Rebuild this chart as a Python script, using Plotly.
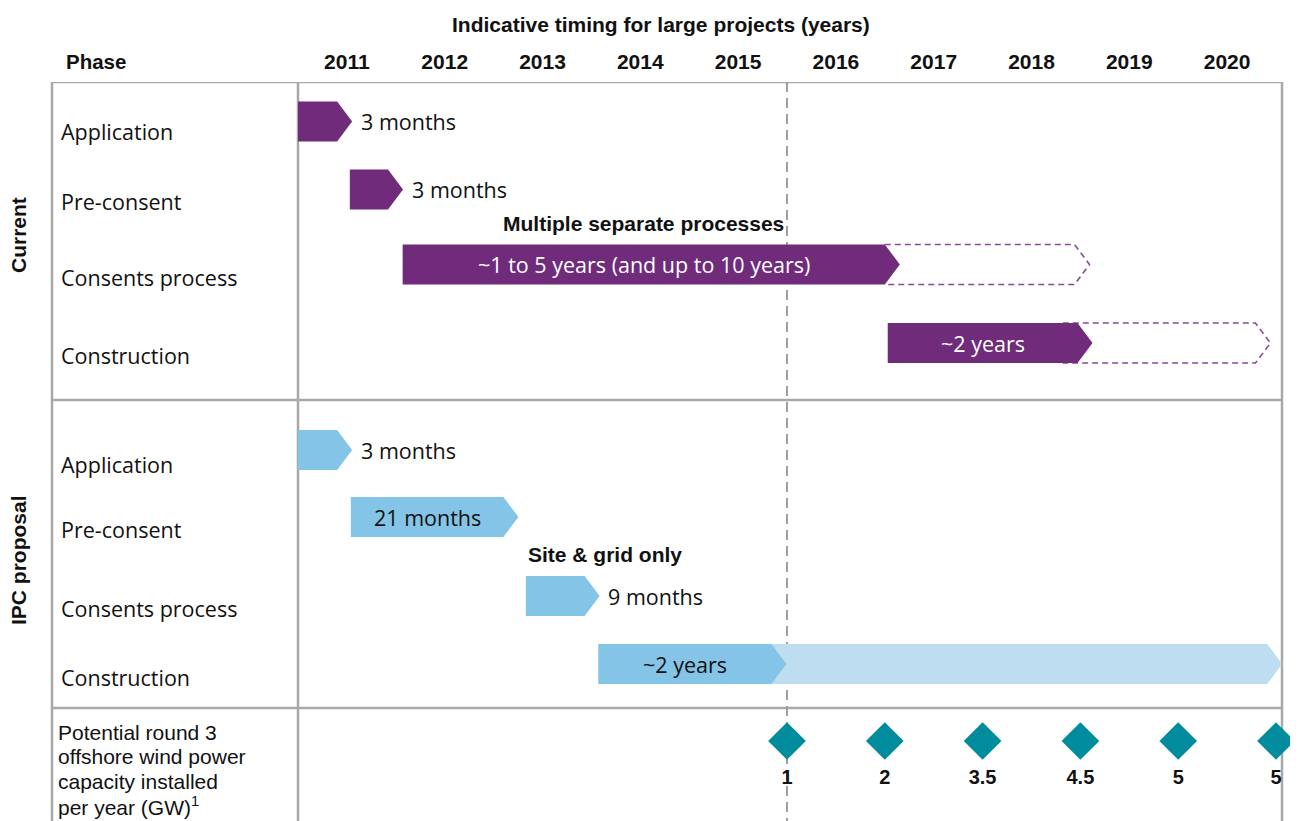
import plotly.graph_objects as go

# ---------------- data ----------------
phases = ["Application", "Pre-consent", "Consents process", "Construction"]
years = [2011, 2012, 2013, 2014, 2015, 2016, 2017, 2018, 2019, 2020]

# Current system (years)
cur_start = [2011.0, 2011.53, 2012.07, 2017.03]
cur_end = [2011.40, 2011.92, 2017.00, 2018.97]
cur_ext_start = [None, None, 2017.00, 2018.82]
cur_ext_end = [None, None, 2018.94, 2020.79]
cur_labels = ["3 months", "3 months", "~1 to 5 years (and up to 10 years)", "~2 years"]
cur_label_inside = [False, False, True, True]

# IPC proposal (years)
ipc_start = [2011.0, 2011.54, 2013.33, 2014.07]
ipc_end = [2011.40, 2013.10, 2013.93, 2015.84]
ipc_ext_end = [None, None, None, 2020.91]
ipc_labels = ["3 months", "21 months", "9 months", "~2 years"]
ipc_label_inside = [False, True, False, True]

# Potential round 3 offshore wind capacity installed per year (GW)
gw_years = [2016, 2017, 2018, 2019, 2020, 2021]
gw_values = [1, 2, 3.5, 4.5, 5, 5]
gw_row_label = ["Potential round 3", "offshore wind power", "capacity installed",
                "per year (GW)<sup>1</sup>"]

# ---------------- layout constants ----------------
OFF = 8                       # page body margin
W, H = 1298 - OFF, 821 - OFF  # figure size
TOP = 82                      # top of grid (reference px)
PX_PER_YEAR = 97.8
X0_PX = 298                   # reference pixel position of 2011.0
XMIN = 2011 - (X0_PX - OFF) / PX_PER_YEAR
XMAX = XMIN + W / PX_PER_YEAR
TIP = 15 / PX_PER_YEAR        # arrow tip length in years
HALF = 20                     # half bar height (px)

cur_rows = [121.5, 189.5, 264.5, 343]
ipc_rows = [450, 517, 596, 664]
cur_label_rows = [131, 201, 277, 355]
ipc_label_rows = [464, 529, 608, 677]

PURPLE = "#702B7A"
BLUE = "#83C4E7"
LIGHTBLUE = "#BEDDF1"
TEAL = "#008C9C"
GRID = "#A8A8A8"
TXT = "#111111"

REG = "Open Sans, Liberation Sans, Arial, sans-serif"
BOLD = "Liberation Sans, Arial, sans-serif"
RS = 21.5  # regular text size


def px(p):
    return (p - OFF) / W


def py(p):
    return (H + OFF - p) / (H + OFF - TOP)


def arrow(s, e, c):
    xs = [s, e, e + TIP, e, s, s]
    ys = [c - HALF, c - HALF, c, c + HALF, c + HALF, c - HALF]
    return xs, ys


def open_arrow(s, e, c):
    xs = [s, e, e + TIP, e, s]
    ys = [c - HALF, c - HALF, c, c + HALF, c + HALF]
    return xs, ys


fig = go.Figure()

# dashed extensions (current)
for s, e, c in zip(cur_ext_start, cur_ext_end, cur_rows):
    if s is None:
        continue
    xs, ys = open_arrow(s, e, c)
    fig.add_trace(go.Scatter(x=xs, y=ys, mode="lines",
                             line=dict(color="#8A4A96", width=1.6, dash="6px,4px"),
                             hoverinfo="skip", showlegend=False))

# light extension (IPC)
for s, e, c in zip(ipc_end, ipc_ext_end, ipc_rows):
    if e is None:
        continue
    xs, ys = arrow(s - 0.01, e, c)
    fig.add_trace(go.Scatter(x=xs, y=ys, mode="lines", fill="toself",
                             fillcolor=LIGHTBLUE, line=dict(width=0, color=LIGHTBLUE),
                             hoverinfo="skip", showlegend=False))

# solid bars
for starts, ends, rows, col in [(cur_start, cur_end, cur_rows, PURPLE),
                                (ipc_start, ipc_end, ipc_rows, BLUE)]:
    for s, e, c in zip(starts, ends, rows):
        xs, ys = arrow(s, e, c)
        fig.add_trace(go.Scatter(x=xs, y=ys, mode="lines", fill="toself",
                                 fillcolor=col, line=dict(width=0, color=col),
                                 hoverinfo="skip", showlegend=False))

# diamonds
fig.add_trace(go.Scatter(x=gw_years, y=[741] * len(gw_years), mode="markers",
                         marker=dict(symbol="diamond", size=29, color=TEAL),
                         cliponaxis=False, hoverinfo="skip", showlegend=False))
fig.add_trace(go.Scatter(x=gw_years, y=[779] * len(gw_years), mode="text",
                         text=[f"<b>{v:g}</b>" for v in gw_values],
                         textfont=dict(family=BOLD, size=20, color=TXT),
                         cliponaxis=False, hoverinfo="skip", showlegend=False))

ann = []


def add_bar_labels(starts, ends, rows, labels, inside, inside_color):
    for s, e, c, t, ins in zip(starts, ends, rows, labels, inside):
        if ins:
            ann.append(dict(x=(s + e) / 2, y=c, xref="x", yref="y", text=t,
                            showarrow=False, xanchor="center", yanchor="middle",
                            font=dict(family=REG, size=RS, color=inside_color)))
        else:
            ann.append(dict(x=e + TIP + 0.07, y=c, xref="x", yref="y", text=t,
                            showarrow=False, xanchor="left", yanchor="middle",
                            font=dict(family=REG, size=RS, color=TXT)))


add_bar_labels(cur_start, cur_end, cur_rows, cur_labels, cur_label_inside, "white")
add_bar_labels(ipc_start, ipc_end, ipc_rows, ipc_labels, ipc_label_inside, TXT)

# group notes
ann.append(dict(x=(cur_start[2] + cur_end[2]) / 2, y=223, xref="x", yref="y",
                text="<b>Multiple separate processes</b>", showarrow=False,
                xanchor="center", yanchor="middle",
                font=dict(family=BOLD, size=21, color=TXT)))
ann.append(dict(x=ipc_start[2], y=554, xref="x", yref="y",
                text="<b>Site &amp; grid only</b>", showarrow=False,
                xanchor="left", yanchor="middle",
                font=dict(family=BOLD, size=21, color=TXT)))

# phase labels
for rows in (cur_label_rows, ipc_label_rows):
    for name, r in zip(phases, rows):
        ann.append(dict(x=px(59), y=r, xref="paper", yref="y", text=name,
                        showarrow=False, xanchor="left", yanchor="middle",
                        font=dict(family=REG, size=RS, color=TXT)))

# bottom row label (one line per annotation to keep the tight leading)
for i, t in enumerate(gw_row_label):
    ann.append(dict(x=px(57), y=732 + 24.5 * i, xref="paper", yref="y", text=t,
                    showarrow=False, xanchor="left", yanchor="middle", align="left",
                    borderpad=0,
                    font=dict(family=BOLD, size=21, color=TXT)))

# section labels (rotated)
for t, r in [("Current", 235), ("IPC proposal", 560)]:
    ann.append(dict(x=px(18), y=r, xref="paper", yref="y", text=f"<b>{t}</b>",
                    textangle=-90, showarrow=False, xanchor="center", yanchor="middle",
                    font=dict(family=BOLD, size=21, color=TXT)))

# header
ann.append(dict(x=px(64), y=py(62), xref="paper", yref="paper", text="<b>Phase</b>",
                showarrow=False, xanchor="left", yanchor="middle",
                font=dict(family=BOLD, size=20.5, color=TXT)))
ann.append(dict(x=px(661), y=py(24), xref="paper", yref="paper",
                text="<b>Indicative timing for large projects (years)</b>",
                showarrow=False, xanchor="center", yanchor="middle",
                font=dict(family=BOLD, size=21, color=TXT)))

# grid / frame shapes
shapes = []
line = dict(color=GRID, width=2.5)
for yy in (TOP, 400, 708):
    shapes.append(dict(type="line", xref="paper", yref="y", x0=px(52), x1=px(1282),
                       y0=yy, y1=yy, line=line, layer="below"))
for xp in (52, 298, 1282):
    shapes.append(dict(type="line", xref="paper", yref="y", x0=px(xp), x1=px(xp),
                       y0=TOP, y1=H + OFF, line=line, layer="below"))
# dashed line at start of 2016
shapes.append(dict(type="line", xref="x", yref="y", x0=2016, x1=2016, y0=TOP, y1=H + OFF,
                   line=dict(color="#A0A0A0", width=2, dash="10px,6px"), layer="below"))

fig.update_layout(
    width=W, height=H,
    margin=dict(l=0, r=0, t=TOP - OFF, b=0),
    paper_bgcolor="white", plot_bgcolor="white",
    showlegend=False,
    annotations=ann, shapes=shapes,
    xaxis=dict(range=[XMIN, XMAX], side="top", showgrid=False, zeroline=False,
               showline=False, ticks="", tickvals=[y + 0.5 for y in years],
               ticktext=[f"<b>{y}</b>" for y in years], ticklabelstandoff=8,
               tickfont=dict(family=BOLD, size=21, color=TXT), fixedrange=True),
    yaxis=dict(range=[H + OFF, TOP], visible=False, showgrid=False, zeroline=False,
               fixedrange=True),
)

fig.write_html("out.html")
